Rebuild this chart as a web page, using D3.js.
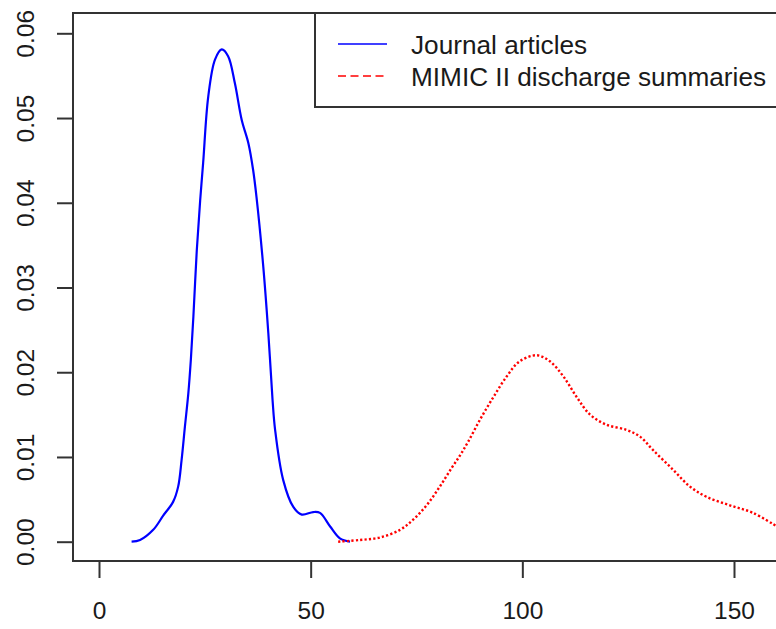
<!DOCTYPE html>
<html>
<head>
<meta charset="utf-8">
<script src="https://cdn.jsdelivr.net/npm/d3@7"></script>
<style>
  body { margin: 0; background: #fff; }
  text { font-family: "Liberation Sans", Arial, sans-serif; fill: #1a1a1a; }
</style>
</head>
<body>
<div id="chart"></div>
<script>
// data (density estimates)
var journalX = [7.7, 9.7, 12.8, 15.2, 17.5, 18.7, 19.5, 20.3, 21.1, 21.7, 22.3, 23.1, 23.9, 24.6, 25.8, 27.4, 29.0, 30.5, 32.1, 33.7, 35.3, 36.4, 37.2, 38.8, 40.0, 41.0, 41.6, 43.5, 45.9, 47.9, 50.6, 52.2, 54.6, 56.9, 59.3];
var journalY = [0, 0.0002, 0.0014, 0.0031, 0.0047, 0.0065, 0.0096, 0.0136, 0.0175, 0.0215, 0.0266, 0.0344, 0.0403, 0.0447, 0.0525, 0.0569, 0.0581, 0.0573, 0.0541, 0.0498, 0.0470, 0.0439, 0.0407, 0.0325, 0.0246, 0.0167, 0.0132, 0.0073, 0.0041, 0.0032, 0.0035, 0.0034, 0.0018, 0.0004, 0];

var mimicX = [56.5, 61.6, 66.4, 71.1, 74.2, 77.4, 80.5, 83.3, 85.3, 87.2, 90.0, 93.2, 96.3, 99.4, 103.4, 106.5, 109.7, 112.8, 116.0, 119.9, 124.6, 127.8, 130.9, 135.6, 139.6, 143.5, 149.0, 154.5, 159.8];
var mimicY = [0, 0.0002, 0.0005, 0.0014, 0.0026, 0.0043, 0.0065, 0.0087, 0.0102, 0.0118, 0.0144, 0.0171, 0.0195, 0.0213, 0.0220, 0.0213, 0.0195, 0.0171, 0.0150, 0.0138, 0.0132, 0.0124, 0.0108, 0.0085, 0.0065, 0.0053, 0.0043, 0.0034, 0.0019];

var xTicks = [0, 50, 100, 150];
var yTicks = [0, 0.01, 0.02, 0.03, 0.04, 0.05, 0.06];
var legendLabels = ["Journal articles", "MIMIC II discharge summaries"];

var width = 776, height = 629;
var box = { left: 73, top: 13, right: 820, bottom: 561 };

var svg = d3.select("#chart")
    .append("svg")
    .attr("width", width)
    .attr("height", height);

// scales
var x = d3.scaleLinear().domain([0, 150]).range([99, 734]);
var y = d3.scaleLinear().domain([0, 0.06]).range([541.7, 33.3]);

// plot box
svg.append("rect")
    .attr("x", box.left)
    .attr("y", box.top)
    .attr("width", box.right - box.left)
    .attr("height", box.bottom - box.top)
    .attr("fill", "none")
    .attr("stroke", "#333")
    .attr("stroke-width", 2);

// x axis
var xAxis = svg.append("g")
    .attr("transform", "translate(0," + box.bottom + ")")
    .call(d3.axisBottom(x).tickValues(xTicks).tickSize(17).tickPadding(24).tickFormat(d3.format("d")));
xAxis.select(".domain").remove();
xAxis.selectAll("line").attr("stroke", "#333").attr("stroke-width", 2);
xAxis.selectAll("text").style("font-size", "24.5px").attr("fill", "#1a1a1a");

// y axis, labels turned like in R
var yAxis = svg.append("g")
    .attr("transform", "translate(" + box.left + ",0)")
    .call(d3.axisLeft(y).tickValues(yTicks).tickSize(16).tickFormat(d3.format(".2f")));
yAxis.select(".domain").remove();
yAxis.selectAll("line").attr("stroke", "#333").attr("stroke-width", 2);
yAxis.selectAll("text")
    .style("font-size", "24.5px")
    .attr("fill", "#1a1a1a")
    .attr("x", 0)
    .attr("dy", 0)
    .attr("text-anchor", "middle")
    .attr("transform", "translate(-39,0) rotate(-90)");

// curves
var line = d3.line()
    .x(function (d) { return x(d[0]); })
    .y(function (d) { return y(d[1]); })
    .curve(d3.curveCatmullRom.alpha(0.5));

svg.append("path")
    .datum(d3.zip(journalX, journalY))
    .attr("d", line)
    .attr("fill", "none")
    .attr("stroke", "#0000ff")
    .attr("stroke-width", 2.2);

svg.append("path")
    .datum(d3.zip(mimicX, mimicY))
    .attr("d", line)
    .attr("fill", "none")
    .attr("stroke", "#ff0000")
    .attr("stroke-width", 2.4)
    .attr("stroke-dasharray", "2.2,2.2");

// legend
var legend = svg.append("g");
legend.append("rect")
    .attr("x", 315)
    .attr("y", box.top)
    .attr("width", 520)
    .attr("height", 94)
    .attr("fill", "#fff")
    .attr("stroke", "#333")
    .attr("stroke-width", 2);

var legendColors = ["#0000ff", "#ff0000"];
var legendDash = [null, "8,4.5"];
legendLabels.forEach(function (label, i) {
    var ly = 44 + i * 32;
    legend.append("line")
        .attr("x1", 338).attr("x2", 387)
        .attr("y1", ly).attr("y2", ly)
        .attr("stroke", legendColors[i])
        .attr("stroke-width", 1.6)
        .attr("stroke-dasharray", legendDash[i]);
    legend.append("text")
        .attr("x", 411)
        .attr("y", ly + 10)
        .style("font-size", "26.2px")
        .text(label);
});
</script>
</body>
</html>
